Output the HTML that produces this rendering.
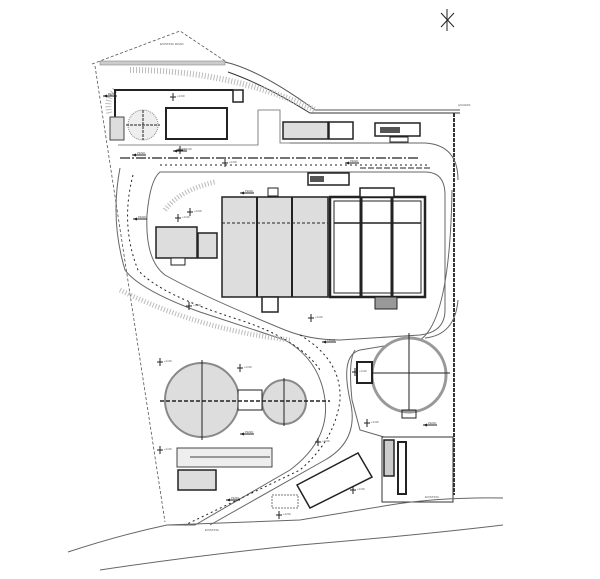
<!DOCTYPE html>
<html><head><meta charset="utf-8"><style>body{margin:0;background:#fff}svg{display:block}</style></head><body>
<svg width="600" height="579" viewBox="0 0 600 579" xmlns="http://www.w3.org/2000/svg" font-family="Liberation Sans, sans-serif">
<rect width="600" height="579" fill="#fff"/>
<defs>
<g id="el"><line x1="0" y1="-4" x2="0" y2="4" stroke="#222" stroke-width="1"/><line x1="-3" y1="0" x2="3" y2="0" stroke="#222" stroke-width="1"/><text x="4" y="0" font-size="3" fill="#555">+0.00</text></g>
<g id="ar"><line x1="0" y1="0" x2="14" y2="0" stroke="#222" stroke-width="1"/><polygon points="0,0 4,-1.5 4,1.5" fill="#222"/><text x="5" y="-1" font-size="3" fill="#555">PEND</text></g>
</defs>
<!-- north arrow -->
<g stroke="#222" stroke-width="1"><line x1="441" y1="27" x2="454" y2="13"/><line x1="441" y1="13" x2="454" y2="27"/><line x1="447" y1="9" x2="447" y2="31"/></g>
<!-- site boundary -->
<g fill="none" stroke="#555" stroke-width="0.8" stroke-dasharray="3,2">
<path d="M92,64 L180,31 L228,63"/>
<path d="M95,66 L165,522"/>
</g>
<!-- top road and slope -->
<rect x="100" y="61" width="125" height="4" fill="#ccc" stroke="#777" stroke-width="0.5"/>
<path d="M225,62 Q260,70 315,110 L460,110" fill="none" stroke="#555" stroke-width="1"/>
<path d="M228,72 Q265,85 310,113 L460,113" fill="none" stroke="#333" stroke-width="1"/>
<path d="M130,70 Q230,70 315,110" fill="none" stroke="#bbb" stroke-width="6" stroke-dasharray="1,2"/>
<path d="M115,90 Q105,100 110,115" fill="none" stroke="#bbb" stroke-width="6" stroke-dasharray="1,2"/>
<!-- thick pipe -->
<path d="M115,117 L115,90 L233,90" fill="none" stroke="#222" stroke-width="2"/>
<rect x="233" y="90" width="10" height="12" fill="#fff" stroke="#222" stroke-width="1.5"/>
<rect x="110" y="117" width="14" height="23" fill="#ddd" stroke="#444"/>
<circle cx="143" cy="125" r="15" fill="#eee" stroke="#888" stroke-dasharray="1,1"/>
<line x1="126" y1="125" x2="160" y2="125" stroke="#222" stroke-dasharray="3,1"/>
<line x1="143" y1="110" x2="143" y2="140" stroke="#222" stroke-dasharray="3,1"/>
<rect x="166" y="108" width="61" height="31" fill="#fff" stroke="#222" stroke-width="2"/>
<!-- upper road area outlines -->
<path d="M118,145 L258,145 L258,110 L280,110 L280,143 L320,143" fill="none" stroke="#666" stroke-width="0.8"/>
<rect x="283" y="122" width="45" height="17" fill="#ddd" stroke="#222" stroke-width="1.5"/>
<rect x="329" y="122" width="24" height="17" fill="#fff" stroke="#222" stroke-width="1.5"/>
<rect x="375" y="123" width="45" height="13" fill="#fff" stroke="#222" stroke-width="1.5"/>
<rect x="380" y="127" width="20" height="6" fill="#555"/>
<rect x="390" y="137" width="18" height="5" fill="#fff" stroke="#222"/>
<!-- dash-dot lines -->
<line x1="120" y1="158" x2="420" y2="158" stroke="#222" stroke-width="1.2" stroke-dasharray="10,2,2,2"/>
<line x1="360" y1="168" x2="430" y2="168" stroke="#222" stroke-width="1" stroke-dasharray="6,2"/>
<!-- right boundary -->
<line x1="454" y1="113" x2="454" y2="495" stroke="#333" stroke-width="2" stroke-dasharray="4,1"/>
<!-- loop road -->
<path d="M120,168 Q110,220 125,270 Q140,290 200,312 L285,340 Q320,360 325,400 Q330,440 290,470 L195,525 L167,525" fill="none" stroke="#666" stroke-width="1"/>
<path d="M290,143 L425,143 Q458,145 458,180" fill="none" stroke="#666" stroke-width="1"/>
<path d="M160,172 L425,172 Q445,172 445,195 L445,310 Q445,332 420,335 L340,340 Q310,340 285,330 Q200,295 165,275 Q145,260 147,215 Q150,180 160,172Z" fill="none" stroke="#666" stroke-width="1"/>
<path d="M133,175 Q120,225 138,270 Q160,295 240,320 Q300,340 320,370" fill="none" stroke="#222" stroke-width="1" stroke-dasharray="2,3"/>
<path d="M160,165 L430,165" fill="none" stroke="#222" stroke-width="1" stroke-dasharray="2,3"/>
<path d="M452,190 Q450,320 420,340 L360,350 Q340,355 350,400 Q360,440 325,460 L210,525" fill="none" stroke="#666" stroke-width="1"/>
<path d="M300,335 Q342,360 340,400 Q335,440 300,470 L185,525" fill="none" stroke="#222" stroke-width="1" stroke-dasharray="2,3"/>
<path d="M458,300 Q455,335 425,338" fill="none" stroke="#666" stroke-width="1"/>
<path d="M120,290 Q200,330 290,340" fill="none" stroke="#bbb" stroke-width="5" stroke-dasharray="1,2"/>
<path d="M165,210 Q180,190 215,182" fill="none" stroke="#bbb" stroke-width="5" stroke-dasharray="1,2"/>
<!-- main buildings -->
<rect x="222" y="197" width="106" height="100" fill="#ddd" stroke="#222" stroke-width="1.5"/>
<line x1="257" y1="197" x2="257" y2="297" stroke="#222" stroke-width="2"/>
<line x1="292" y1="197" x2="292" y2="297" stroke="#222" stroke-width="2"/>
<line x1="222" y1="223" x2="328" y2="223" stroke="#222" stroke-dasharray="3,2"/>
<rect x="330" y="197" width="95" height="100" fill="#fff" stroke="#222" stroke-width="2.5"/>
<rect x="334" y="201" width="87" height="92" fill="none" stroke="#222" stroke-width="1"/>
<line x1="361" y1="197" x2="361" y2="297" stroke="#222" stroke-width="3"/>
<line x1="392" y1="197" x2="392" y2="297" stroke="#222" stroke-width="3"/>
<line x1="334" y1="223" x2="421" y2="223" stroke="#222" stroke-width="1.5"/>
<rect x="360" y="188" width="34" height="9" fill="#fff" stroke="#222" stroke-width="1.5"/>
<rect x="308" y="173" width="41" height="12" fill="#fff" stroke="#222" stroke-width="1.5"/>
<rect x="310" y="176" width="14" height="6" fill="#555"/>
<rect x="268" y="188" width="10" height="8" fill="#fff" stroke="#222"/>
<rect x="262" y="297" width="16" height="15" fill="#fff" stroke="#222" stroke-width="1.5"/>
<rect x="375" y="297" width="22" height="12" fill="#999" stroke="#222"/>
<rect x="156" y="227" width="41" height="31" fill="#ddd" stroke="#222" stroke-width="1.5"/>
<rect x="198" y="233" width="19" height="25" fill="#ddd" stroke="#222" stroke-width="1.5"/>
<rect x="171" y="258" width="14" height="7" fill="#fff" stroke="#222"/>
<!-- circles -->
<circle cx="202" cy="400" r="37" fill="#ddd" stroke="#888" stroke-width="2"/>
<circle cx="284" cy="402" r="22" fill="#ddd" stroke="#888" stroke-width="2"/>
<rect x="238" y="390" width="24" height="20" fill="#fff" stroke="#222"/>
<line x1="160" y1="401" x2="330" y2="401" stroke="#222" stroke-width="1.5" stroke-dasharray="4,2"/>
<line x1="202" y1="360" x2="202" y2="440" stroke="#222" stroke-width="1"/>
<line x1="284" y1="378" x2="284" y2="426" stroke="#222" stroke-width="1"/>
<circle cx="409" cy="375" r="37" fill="#fff" stroke="#999" stroke-width="3"/>
<line x1="409" y1="333" x2="409" y2="410" stroke="#222" stroke-width="1"/>
<line x1="372" y1="373" x2="450" y2="373" stroke="#222" stroke-width="1"/>
<rect x="357" y="362" width="15" height="21" fill="#fff" stroke="#222" stroke-width="2"/>
<rect x="402" y="410" width="14" height="8" fill="none" stroke="#222"/>
<path d="M355,350 Q348,360 352,400 L360,430 L384,437" fill="none" stroke="#666"/>
<!-- lower buildings -->
<rect x="177" y="448" width="95" height="19" fill="#eee" stroke="#444"/>
<line x1="190" y1="457" x2="270" y2="457" stroke="#444"/>
<rect x="178" y="470" width="38" height="20" fill="#ddd" stroke="#222" stroke-width="1.5"/>
<polygon points="297,485 358,453 372,477 310,508" fill="#fff" stroke="#222" stroke-width="1.5"/>
<rect x="272" y="495" width="26" height="13" fill="#fff" stroke="#777" stroke-dasharray="2,1"/>
<rect x="382" y="437" width="71" height="65" fill="#fff" stroke="#333" stroke-width="1"/>
<rect x="384" y="440" width="10" height="36" fill="#ccc" stroke="#222" stroke-width="1.5"/>
<rect x="398" y="442" width="8" height="52" fill="#fff" stroke="#222" stroke-width="2"/>
<!-- bottom road -->
<path d="M68,552 Q120,535 167,525 L300,520 L390,505 Q440,497 503,498" fill="none" stroke="#666" stroke-width="1"/>
<path d="M100,570 Q200,555 300,545 Q420,535 503,525" fill="none" stroke="#666" stroke-width="1"/>
<!-- markers -->
<use href="#el" x="173" y="97"/>
<use href="#el" x="180" y="150"/>
<use href="#el" x="225" y="163"/>
<use href="#el" x="190" y="212"/>
<use href="#el" x="178" y="218"/>
<use href="#el" x="189" y="306"/>
<use href="#el" x="311" y="318"/>
<use href="#el" x="160" y="362"/>
<use href="#el" x="240" y="368"/>
<use href="#el" x="160" y="450"/>
<use href="#el" x="318" y="442"/>
<use href="#el" x="367" y="423"/>
<use href="#el" x="355" y="372"/>
<use href="#el" x="353" y="490"/>
<use href="#el" x="279" y="515"/>
<use href="#ar" x="103" y="96"/>
<use href="#ar" x="132" y="155"/>
<use href="#ar" x="173" y="151"/>
<use href="#ar" x="345" y="163"/>
<use href="#ar" x="240" y="193"/>
<use href="#ar" x="133" y="219"/>
<use href="#ar" x="322" y="342"/>
<use href="#ar" x="240" y="434"/>
<use href="#ar" x="423" y="425"/>
<use href="#ar" x="226" y="500"/>
<text x="205" y="531" font-size="3" fill="#555">EXISTING</text>
<text x="160" y="45" font-size="3" fill="#555">EXISTING ROAD</text>
<text x="458" y="106" font-size="3" fill="#555">ACCESS</text>
<text x="425" y="498" font-size="3" fill="#555">EXISTING</text>
</svg>
</body></html>
